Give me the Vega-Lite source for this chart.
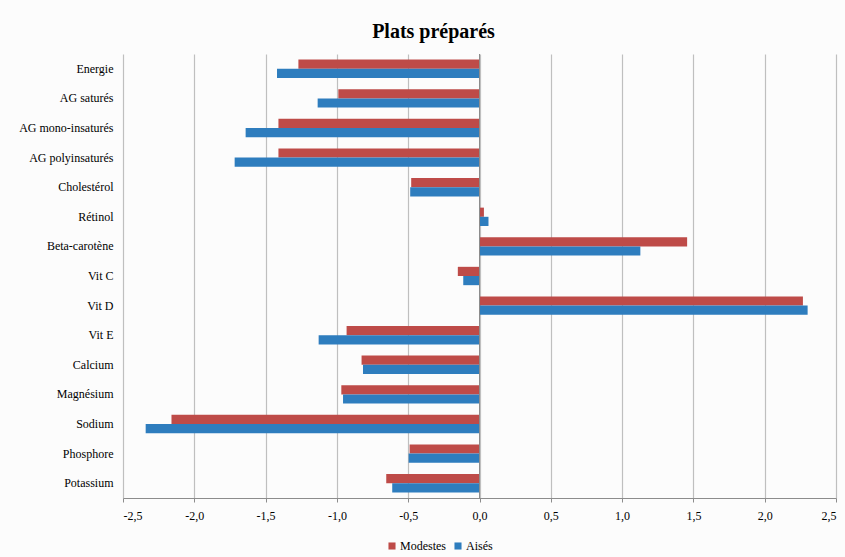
{
  "$schema": "https://vega.github.io/schema/vega-lite/v6.json",
  "autosize": {"type": "none"},
  "padding": {"left": 123, "top": 54, "right": 9, "bottom": 59},
  "width": 713,
  "height": 444,
  "background": "#FCFCFC",
  "title": {
    "text": "Plats préparés",
    "font": "Liberation Serif",
    "fontSize": 20,
    "fontWeight": "bold",
    "color": "#000000",
    "anchor": "middle",
    "dx": -46,
    "offset": 12
  },
  "data": {
    "values": [
      {"nutriment": "Energie", "groupe": "Modestes", "valeur": -1.27},
      {"nutriment": "Energie", "groupe": "Aisés", "valeur": -1.42},
      {"nutriment": "AG saturés", "groupe": "Modestes", "valeur": -0.99},
      {"nutriment": "AG saturés", "groupe": "Aisés", "valeur": -1.135},
      {"nutriment": "AG mono-insaturés", "groupe": "Modestes", "valeur": -1.41},
      {"nutriment": "AG mono-insaturés", "groupe": "Aisés", "valeur": -1.64},
      {"nutriment": "AG polyinsaturés", "groupe": "Modestes", "valeur": -1.41},
      {"nutriment": "AG polyinsaturés", "groupe": "Aisés", "valeur": -1.717},
      {"nutriment": "Cholestérol", "groupe": "Modestes", "valeur": -0.479},
      {"nutriment": "Cholestérol", "groupe": "Aisés", "valeur": -0.486},
      {"nutriment": "Rétinol", "groupe": "Modestes", "valeur": 0.031},
      {"nutriment": "Rétinol", "groupe": "Aisés", "valeur": 0.063},
      {"nutriment": "Beta-carotène", "groupe": "Modestes", "valeur": 1.456},
      {"nutriment": "Beta-carotène", "groupe": "Aisés", "valeur": 1.128},
      {"nutriment": "Vit C", "groupe": "Modestes", "valeur": -0.152},
      {"nutriment": "Vit C", "groupe": "Aisés", "valeur": -0.114},
      {"nutriment": "Vit D", "groupe": "Modestes", "valeur": 2.268},
      {"nutriment": "Vit D", "groupe": "Aisés", "valeur": 2.301},
      {"nutriment": "Vit E", "groupe": "Modestes", "valeur": -0.932},
      {"nutriment": "Vit E", "groupe": "Aisés", "valeur": -1.128},
      {"nutriment": "Calcium", "groupe": "Modestes", "valeur": -0.827},
      {"nutriment": "Calcium", "groupe": "Aisés", "valeur": -0.817},
      {"nutriment": "Magnésium", "groupe": "Modestes", "valeur": -0.969},
      {"nutriment": "Magnésium", "groupe": "Aisés", "valeur": -0.957},
      {"nutriment": "Sodium", "groupe": "Modestes", "valeur": -2.16},
      {"nutriment": "Sodium", "groupe": "Aisés", "valeur": -2.341},
      {"nutriment": "Phosphore", "groupe": "Modestes", "valeur": -0.49},
      {"nutriment": "Phosphore", "groupe": "Aisés", "valeur": -0.497},
      {"nutriment": "Potassium", "groupe": "Modestes", "valeur": -0.654},
      {"nutriment": "Potassium", "groupe": "Aisés", "valeur": -0.612}
    ]
  },
  "layer": [
    {
      "mark": {"type": "bar", "stroke": null},
      "encoding": {
        "y": {
          "field": "nutriment",
          "type": "nominal",
          "sort": null,
          "scale": {"paddingInner": 0.38, "paddingOuter": 0.19},
          "axis": {
            "title": null,
            "domain": false,
            "ticks": false,
            "labelPadding": 10,
            "labelFont": "Liberation Serif",
            "labelFontSize": 12,
            "labelColor": "#000000"
          }
        },
        "yOffset": {
          "field": "groupe",
          "type": "nominal",
          "sort": ["Modestes", "Aisés"],
          "scale": {"paddingInner": 0, "paddingOuter": 0}
        },
        "x": {
          "field": "valeur",
          "type": "quantitative",
          "scale": {"domain": [-2.5, 2.5], "nice": false, "zero": false},
          "axis": {
            "title": null,
            "values": [-2.5, -2, -1.5, -1, -0.5, 0, 0.5, 1, 1.5, 2, 2.5],
            "labelExpr": "replace(replace(format(datum.value, '.1f'), '.', ','), '\u2212', '-')",
            "labelFont": "Liberation Serif",
            "labelFontSize": 12,
            "labelColor": "#000000",
            "labelPadding": 8,
            "grid": true,
            "gridColor": "#BFBFBF",
            "gridWidth": 1.2,
            "domainColor": "#8C8C8C",
            "tickColor": "#8C8C8C",
            "tickSize": 4
          }
        },
        "color": {
          "field": "groupe",
          "type": "nominal",
          "scale": {"domain": ["Modestes", "Aisés"], "range": ["#BE4B48", "#2E7DBE"]},
          "legend": {
            "title": null,
            "orient": "none",
            "direction": "horizontal",
            "legendX": 263,
            "legendY": 486,
            "symbolType": "square",
            "symbolSize": 50,
            "symbolStrokeWidth": 0,
            "labelFont": "Liberation Serif",
            "labelFontSize": 12,
            "labelColor": "#000000",
            "labelOffset": 2,
            "columnPadding": 6
          }
        }
      }
    },
    {
      "mark": {"type": "rule", "color": "#8C8C8C", "strokeWidth": 1},
      "encoding": {"x": {"datum": 0}}
    }
  ],
  "config": {
    "font": "Liberation Serif",
    "view": {"stroke": null},
    "axis": {"labelFont": "Liberation Serif"},
    "legend": {"symbolOpacity": 1, "labelFont": "Liberation Serif"}
  }
}
